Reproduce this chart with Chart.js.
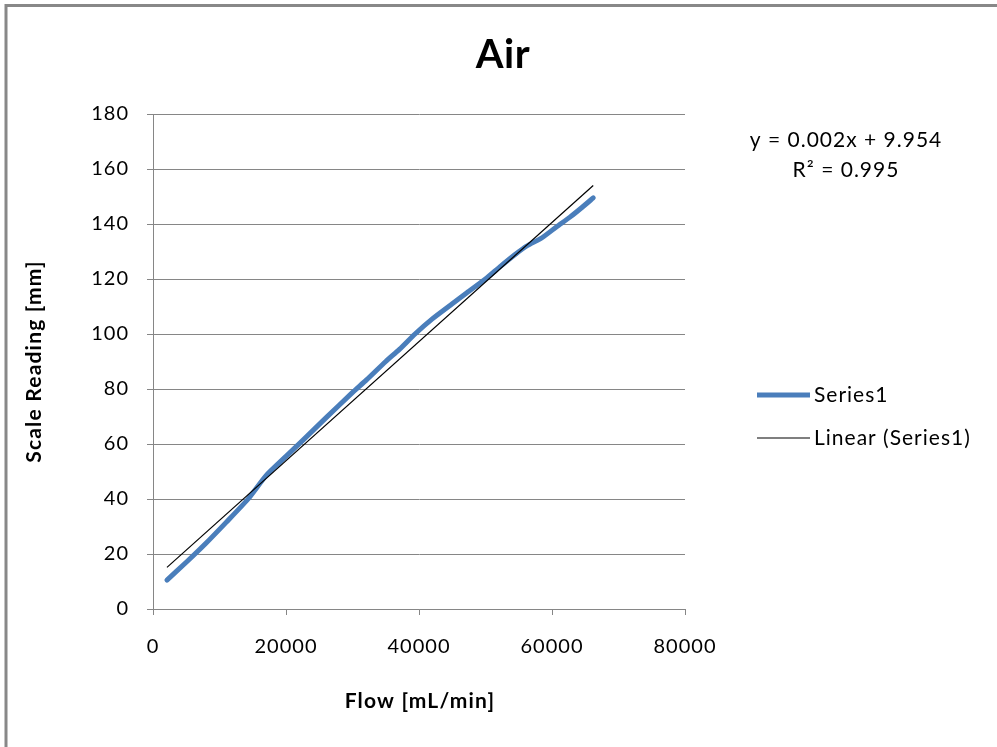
<!DOCTYPE html>
<html>
<head>
<meta charset="utf-8">
<title>Air</title>
<script src="https://cdn.jsdelivr.net/npm/chart.js@4.4.1/dist/chart.umd.min.js"></script>
<style>
  html, body { margin: 0; padding: 0; background: #ffffff; }
  #wrap { width: 997px; height: 747px; position: relative; }
</style>
</head>
<body>
<div id="wrap"><canvas id="chart" width="997" height="747"></canvas></div>
<script>
// Flow meter calibration for air: flow rate vs. scale reading
const flowValues = [2100, 5000, 8000, 11000, 14300, 17000, 20000, 22600, 26000, 29900,
                    32100, 35000, 37100, 39400, 42000, 45000, 47200, 50000, 52200, 54500,
                    56200, 58500, 60700, 62700, 64500, 66200];
const readingValues = [10.5, 17, 24, 31.5, 40, 48.5, 55.5, 61.5, 69.5, 78.5,
                       83.3, 90, 94.5, 100, 105.5, 111, 115, 120, 124.5, 129,
                       132, 135, 139, 142.5, 146, 149.5];
const xTickValues = [0, 20000, 40000, 60000, 80000];
const yTickValues = [0, 20, 40, 60, 80, 100, 120, 140, 160, 180];
const seriesName = 'Series1';
const trendName = 'Linear (Series1)';
const equationLines = ['y = 0.002x + 9.954', 'R\u00B2 = 0.995'];

// Least-squares trendline through the measured points
function linearFit(xs, ys) {
  const n = xs.length;
  let sx = 0, sy = 0, sxx = 0, sxy = 0;
  for (let i = 0; i < n; i++) { sx += xs[i]; sy += ys[i]; sxx += xs[i] * xs[i]; sxy += xs[i] * ys[i]; }
  const slope = (n * sxy - sx * sy) / (n * sxx - sx * sx);
  const intercept = (sy - slope * sx) / n;
  return { slope, intercept };
}
const fit = linearFit(flowValues, readingValues);
const xFirst = flowValues[0], xLast = flowValues[flowValues.length - 1];
const trendPoints = [
  { x: xFirst, y: fit.intercept + fit.slope * xFirst },
  { x: xLast, y: fit.intercept + fit.slope * xLast }
];
const seriesPoints = flowValues.map((x, i) => ({ x, y: readingValues[i] }));

const FONT = 'Lato, "Open Sans", sans-serif';
const GRID = '#868686';

// widen text spacing for every label drawn on the canvas
const spacing = {
  id: 'spacing',
  beforeDraw(chart) { chart.ctx.letterSpacing = '1px'; },
  afterDraw(chart) { chart.ctx.letterSpacing = '0px'; }
};

const decorations = {
  id: 'decorations',
  afterDraw(chart) {
    const ctx = chart.ctx;
    const area = chart.chartArea;
    ctx.save();

    // outer frame
    ctx.strokeStyle = '#888888';
    ctx.lineWidth = 3;
    ctx.beginPath();
    ctx.moveTo(6, 747);
    ctx.lineTo(6, 5.5);
    ctx.lineTo(997, 5.5);
    ctx.stroke();

    ctx.fillStyle = '#000000';
    ctx.textAlign = 'center';
    ctx.textBaseline = 'middle';

    // title
    ctx.letterSpacing = '0.5px';
    ctx.font = 'bold 40px ' + FONT;
    ctx.fillText('Air', 503, 55);

    // axis titles
    ctx.letterSpacing = '1.2px';
    ctx.font = 'bold 21px ' + FONT;
    ctx.fillText('Flow [mL/min]', 420, 701);
    ctx.save();
    ctx.translate(34, (area.top + area.bottom) / 2);
    ctx.rotate(-Math.PI / 2);
    ctx.fillText('Scale Reading [mm]', 0, 0);
    ctx.restore();

    // trendline equation
    ctx.letterSpacing = '1px';
    ctx.font = '21px ' + FONT;
    ctx.fillText(equationLines[0], 846, 140);
    ctx.fillText(equationLines[1], 846, 170);

    // legend
    const rows = [395, 438];
    chart.data.datasets.forEach((ds, i) => {
      const y = rows[i];
      ctx.strokeStyle = ds.borderColor;
      ctx.lineWidth = ds.borderWidth;
      ctx.beginPath();
      ctx.moveTo(757, y);
      ctx.lineTo(810, y);
      ctx.stroke();
      ctx.textAlign = 'left';
      ctx.fillStyle = '#000000';
      ctx.font = '21px ' + FONT;
      ctx.fillText(ds.label, 814, y);
    });
    ctx.restore();
  }
};

new Chart(document.getElementById('chart'), {
  type: 'scatter',
  data: {
    datasets: [
      {
        label: seriesName,
        data: seriesPoints,
        showLine: true,
        borderColor: '#4a7ebb',
        backgroundColor: '#4a7ebb',
        borderWidth: 5,
        pointRadius: 0,
        tension: 0.2,
        borderCapStyle: 'round',
        borderJoinStyle: 'round',
        order: 2
      },
      {
        label: trendName,
        data: trendPoints,
        showLine: true,
        borderColor: '#000000',
        backgroundColor: '#000000',
        borderWidth: 1.2,
        pointRadius: 0,
        order: 1
      }
    ]
  },
  options: {
    responsive: false,
    animation: false,
    events: [],
    layout: { padding: { top: 114, right: 312, left: 0, bottom: 0 } },
    plugins: {
      legend: { display: false },
      title: { display: false },
      tooltip: { enabled: false }
    },
    scales: {
      x: {
        type: 'linear',
        min: 0,
        max: 80000,
        afterBuildTicks(scale) { scale.ticks = xTickValues.map(v => ({ value: v })); },
        afterFit(scale) { scale.height = 138; },
        ticks: {
          callback: v => String(v),
          color: '#000000',
          font: { family: FONT, size: 20 },
          padding: 20,
          maxRotation: 0
        },
        grid: { drawOnChartArea: false, drawTicks: true, tickLength: 6, color: GRID, lineWidth: 1 },
        border: { display: true, color: GRID, width: 1 }
      },
      y: {
        type: 'linear',
        min: 0,
        max: 180,
        afterBuildTicks(scale) { scale.ticks = yTickValues.map(v => ({ value: v })); },
        afterFit(scale) { scale.width = 153; },
        ticks: {
          callback: v => String(v),
          color: '#000000',
          font: { family: FONT, size: 20 },
          padding: 18
        },
        grid: { drawOnChartArea: true, drawTicks: true, tickLength: 6, color: GRID, lineWidth: 1 },
        border: { display: true, color: GRID, width: 1 }
      }
    }
  },
  plugins: [spacing, decorations]
});
</script>
</body>
</html>
